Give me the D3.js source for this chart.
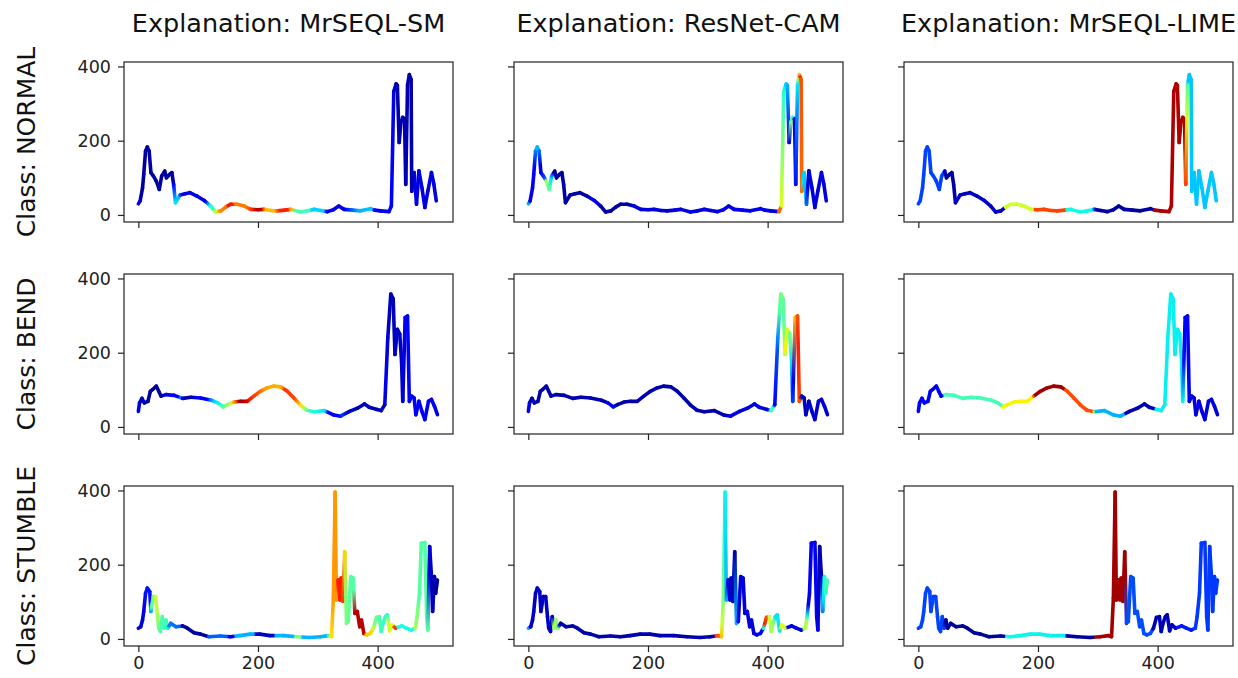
<!DOCTYPE html>
<head>
  <meta charset="utf-8">
  <title>Explanations</title>
  <style>
    body { margin: 0; background: #fff; }
    svg { font-family: "DejaVu Sans", sans-serif; }
    .tick text { fill: #222; }
  </style>
</head>
<body>
  <div id="chart"></div>
  <script src="https://cdn.jsdelivr.net/npm/d3@7"></script>
  <script type="text/javascript">

    // column / row labels
    var methods = ["MrSEQL-SM", "ResNet-CAM", "MrSEQL-LIME"];
    var classes = ["NORMAL", "BEND", "STUMBLE"];
    var xTicks = [0, 200, 400];
    var yTicks = [0, 200, 400];

    // time series, one per class: [t, value]
    var normal = [[0,30],[3,38],[7,73],[9,109],[12,172],[15,183],[18,172],[21,114],[25,105],[30,91],[35,69],[39,105],[44,118],[47,100],[52,109],[56,114],[59,82],[62,33],[70,54],[78,57],[86,60],[98,51],[110,39],[121,24],[129,8],[138,11],[146,21],[154,29],[165,29],[177,24],[188,15],[200,14],[210,15],[222,12],[232,11],[245,13],[255,15],[271,8],[283,11],[294,15],[305,12],[316,9],[326,14],[335,24],[344,15],[358,13],[371,11],[388,17],[395,13],[405,11],[419,9],[423,24],[427,333],[431,353],[433,349],[436,195],[439,250],[442,263],[445,258],[447,82],[450,350],[453,378],[456,365],[457,64],[461,114],[465,29],[469,119],[474,74],[479,20],[484,65],[490,114],[494,83],[498,38]];
    var bend = [[0,42],[2,65],[6,77],[10,65],[16,69],[20,96],[24,101],[30,110],[34,96],[38,83],[46,87],[60,85],[74,77],[88,80],[104,78],[122,72],[133,65],[142,54],[149,60],[160,67],[171,69],[182,69],[193,83],[204,96],[215,105],[226,110],[238,108],[249,96],[260,78],[271,59],[282,45],[294,41],[311,44],[327,32],[338,29],[353,42],[367,51],[378,62],[386,53],[399,47],[406,44],[412,60],[417,240],[422,358],[426,345],[429,195],[433,263],[437,250],[440,177],[442,69],[446,295],[450,299],[453,69],[457,83],[461,78],[464,33],[469,69],[474,42],[479,20],[485,69],[490,74],[495,56],[500,33]];
    var stumble = [[0,29],[4,33],[7,51],[9,74],[12,123],[15,137],[19,128],[21,74],[25,114],[29,114],[32,60],[34,29],[37,20],[40,60],[43,29],[46,51],[49,29],[54,42],[63,33],[74,35],[82,29],[93,17],[104,13],[118,6],[137,8],[154,6],[170,9],[187,13],[203,13],[220,9],[243,9],[265,6],[287,4],[304,6],[318,9],[323,6],[326,110],[329,396],[331,105],[334,159],[337,105],[339,164],[342,101],[345,235],[348,42],[351,47],[355,168],[359,164],[362,69],[366,74],[370,33],[373,51],[377,15],[382,11],[388,15],[393,29],[398,58],[403,60],[406,20],[409,42],[413,60],[416,65],[420,22],[424,38],[430,29],[440,35],[448,29],[456,24],[463,29],[466,60],[470,123],[473,258],[479,260],[482,60],[484,24],[487,249],[490,168],[492,74],[495,168],[497,123],[500,159]];
    var series = [normal, bend, stumble];

    // explanation weights (0..1 on the jet map): [t, weight], rows = class, cols = method
    var wNormalSM = [[0,0.1],[5,0.03],[58,0.03],[62,0.35],[68,0.3],[72,0.09],[112,0.09],[118,0.33],[126,0.45],[130,0.6],[135,0.75],[147,0.8],[150,0.9],[158,0.88],[162,0.78],[180,0.78],[188,0.85],[197,0.95],[208,0.95],[212,0.7],[228,0.72],[236,0.88],[250,0.88],[256,0.72],[262,0.45],[285,0.42],[290,0.33],[310,0.33],[314,0.1],[345,0.09],[355,0.2],[368,0.3],[390,0.32],[395,0.1],[420,0.1],[425,0.12],[430,0.04],[460,0.04],[462,0.09],[500,0.08]];
    var wNormalCAM = [[0,0.3],[3,0.08],[10,0.12],[13,0.3],[17,0.3],[20,0.08],[27,0.2],[30,0.55],[34,0.5],[38,0.35],[42,0.03],[100,0.03],[104,0.09],[115,0.09],[120,0.03],[170,0.03],[175,0.08],[415,0.09],[418,0.8],[422,0.8],[423,0.62],[427,0.4],[430,0.35],[433,0.3],[436,0.08],[439,0.5],[442,0.4],[444,0.08],[446,0.08],[449,0.25],[452,0.55],[454,0.88],[457,0.8],[459,0.35],[464,0.3],[467,0.08],[500,0.08]];
    var wNormalLIME = [[0,0.19],[42,0.19],[45,0.03],[60,0.03],[63,0.06],[143,0.06],[146,0.6],[192,0.6],[194,0.84],[245,0.84],[247,0.37],[293,0.37],[295,0.03],[393,0.03],[395,0.96],[446,0.96],[449,0.6],[451,0.32],[500,0.32]];
    var wBendSM = [[0,0.09],[6,0.05],[20,0.02],[40,0.03],[44,0.1],[66,0.12],[70,0.25],[76,0.03],[90,0.05],[95,0.09],[115,0.12],[125,0.32],[137,0.38],[145,0.5],[155,0.58],[162,0.8],[168,0.97],[180,0.95],[186,0.88],[200,0.82],[212,0.74],[238,0.72],[244,0.86],[260,0.84],[268,0.72],[278,0.55],[286,0.4],[312,0.35],[316,0.12],[335,0.12],[340,0.18],[350,0.06],[410,0.05],[414,0.1],[420,0.05],[440,0.06],[450,0.11],[500,0.1]];
    var wBendCAM = [[0,0.1],[5,0.04],[130,0.04],[135,0.13],[142,0.1],[148,0.04],[330,0.04],[335,0.09],[400,0.08],[405,0.45],[409,0.4],[412,0.12],[416,0.2],[420,0.45],[424,0.5],[427,0.45],[430,0.65],[434,0.6],[438,0.45],[440,0.35],[443,0.1],[446,0.72],[449,0.78],[451,0.88],[454,0.82],[456,0.05],[500,0.08]];
    var wBendLIME = [[0,0.1],[40,0.1],[43,0.43],[139,0.43],[141,0.65],[192,0.65],[194,0.97],[243,0.97],[245,0.83],[293,0.83],[295,0.3],[344,0.3],[346,0.04],[394,0.04],[396,0.36],[442,0.36],[444,0.13],[455,0.09],[500,0.08]];
    var wStumbleSM = [[0,0.06],[9,0.08],[12,0.14],[20,0.14],[22,0.45],[26,0.5],[28,0.62],[32,0.55],[35,0.45],[48,0.42],[51,0.25],[70,0.22],[74,0.03],[114,0.03],[118,0.22],[148,0.22],[151,0.1],[159,0.1],[162,0.3],[193,0.3],[196,0.06],[226,0.06],[229,0.3],[259,0.3],[262,0.5],[271,0.5],[274,0.3],[316,0.3],[321,0.62],[326,0.75],[332,0.75],[334,0.88],[341,0.88],[344,0.78],[347,0.5],[355,0.45],[360,0.45],[362,0.95],[377,0.95],[380,0.7],[390,0.68],[395,0.5],[406,0.42],[416,0.4],[418,0.6],[425,0.62],[427,0.85],[431,0.85],[433,0.38],[461,0.38],[463,0.55],[467,0.5],[469,0.45],[484,0.45],[486,0.08],[500,0.02]];
    var wStumbleCAM = [[0,0.3],[2,0.06],[40,0.06],[43,0.55],[49,0.5],[52,0.04],[310,0.04],[313,0.85],[322,0.8],[324,0.6],[328,0.4],[331,0.3],[334,0.08],[345,0.04],[348,0.3],[352,0.08],[384,0.08],[392,0.12],[395,0.88],[400,0.8],[403,0.6],[410,0.5],[413,0.35],[420,0.35],[422,0.62],[430,0.6],[433,0.09],[457,0.09],[460,0.58],[465,0.55],[468,0.09],[483,0.12],[486,0.03],[490,0.06],[493,0.35],[500,0.45]];
    var wStumbleLIME = [[0,0.19],[43,0.19],[45,0.02],[144,0.02],[146,0.37],[245,0.36],[247,0.03],[293,0.03],[295,0.97],[346,0.97],[348,0.2],[390,0.2],[392,0.05],[430,0.05],[432,0.15],[458,0.15],[460,0.18],[500,0.18]];
    var weights = [
      [wNormalSM, wNormalCAM, wNormalLIME],
      [wBendSM, wBendCAM, wBendLIME],
      [wStumbleSM, wStumbleCAM, wStumbleLIME]
    ];

    ////////////////////////////////////////////////////////////////////////////////
    var W = 1238, H = 678;
    var panelW = 329, panelH = 160;
    var left0 = 124, top0 = 62, colStep = 390, rowStep = 212;

    // matplotlib "jet"
    var jetR = d3.scaleLinear().domain([0, 0.35, 0.66, 0.89, 1]).range([0, 0, 1, 1, 0.5]).clamp(true);
    var jetG = d3.scaleLinear().domain([0, 0.125, 0.375, 0.64, 0.91, 1]).range([0, 0, 1, 1, 0, 0]).clamp(true);
    var jetB = d3.scaleLinear().domain([0, 0.11, 0.34, 0.65, 1]).range([0.5, 1, 1, 0, 0]).clamp(true);
    function jet(t) {
      return d3.rgb(jetR(t) * 255, jetG(t) * 255, jetB(t) * 255).formatHex();
    }

    var x = d3.scaleLinear().domain([-24, 526]).range([0, panelW]);
    var y = d3.scaleLinear().domain([-19, 412]).range([panelH, 0]);

    var svg = d3.select("#chart").append("svg")
      .attr("width", W)
      .attr("height", H);
    var defs = svg.append("defs");

    // column titles
    svg.selectAll("text.title")
      .data(methods)
      .join("text")
      .attr("class", "title")
      .attr("x", (d, i) => left0 + i * colStep + panelW / 2)
      .attr("y", 32)
      .attr("text-anchor", "middle")
      .style("font-size", "25.5px")
      .attr("fill", "#111")
      .text(d => "Explanation: " + d);

    // row labels
    svg.selectAll("text.rowlabel")
      .data(classes)
      .join("text")
      .attr("class", "rowlabel")
      .attr("transform", (d, i) => "translate(35," + (top0 + i * rowStep + panelH / 2) + ") rotate(-90)")
      .attr("text-anchor", "middle")
      .style("font-size", "25px")
      .attr("fill", "#111")
      .text(d => "Class: " + d);

    classes.forEach(function (cls, r) {
      methods.forEach(function (m, c) {
        var g = svg.append("g")
          .attr("transform", "translate(" + (left0 + c * colStep) + "," + (top0 + r * rowStep) + ")");

        var w = weights[r][c];
        var wScale = d3.scaleLinear().domain(w.map(d => d[0])).range(w.map(d => d[1])).clamp(true);
        var segs = d3.pairs(series[r]);

        // one gradient per segment, with stops at the weight breakpoints inside it
        segs.forEach(function (s, i) {
          var t0 = s[0][0], t1 = s[1][0];
          var stops = [t0].concat(w.map(d => d[0]).filter(t => t > t0 && t < t1), [t1]);
          defs.append("linearGradient")
            .attr("id", "g" + r + c + "_" + i)
            .attr("gradientUnits", "userSpaceOnUse")
            .attr("x1", x(t0)).attr("y1", y(s[0][1]))
            .attr("x2", x(t1)).attr("y2", y(s[1][1]))
            .selectAll("stop")
            .data(stops)
            .join("stop")
            .attr("offset", t => (t - t0) / (t1 - t0))
            .attr("stop-color", t => jet(wScale(t)));
        });

        g.selectAll("line.seg")
          .data(segs)
          .join("line")
          .attr("class", "seg")
          .attr("x1", d => x(d[0][0]))
          .attr("y1", d => y(d[0][1]))
          .attr("x2", d => x(d[1][0]))
          .attr("y2", d => y(d[1][1]))
          .attr("stroke", (d, i) => "url(#g" + r + c + "_" + i + ")")
          .attr("stroke-width", 3.6)
          .attr("stroke-linecap", "round");

        var xAxis = d3.axisBottom(x).tickValues(xTicks).tickSize(6).tickPadding(5)
          .tickFormat(r === classes.length - 1 ? d3.format("d") : "");
        var yAxis = d3.axisLeft(y).tickValues(yTicks).tickSize(6).tickPadding(7)
          .tickFormat(c === 0 ? d3.format("d") : "");

        var gx = g.append("g").attr("transform", "translate(0," + panelH + ")").call(xAxis);
        var gy = g.append("g").call(yAxis);
        [gx, gy].forEach(function (a) {
          a.select(".domain").remove();
          a.selectAll(".tick line").attr("stroke", "#222").attr("stroke-width", 1.2);
          a.selectAll(".tick text").style("font-size", "17.5px").style("font-family", "DejaVu Sans");
        });

        g.append("rect")
          .attr("width", panelW)
          .attr("height", panelH)
          .attr("fill", "none")
          .attr("stroke", "#222")
          .attr("stroke-width", 1.2);
      });
    });

  </script>
</body>
